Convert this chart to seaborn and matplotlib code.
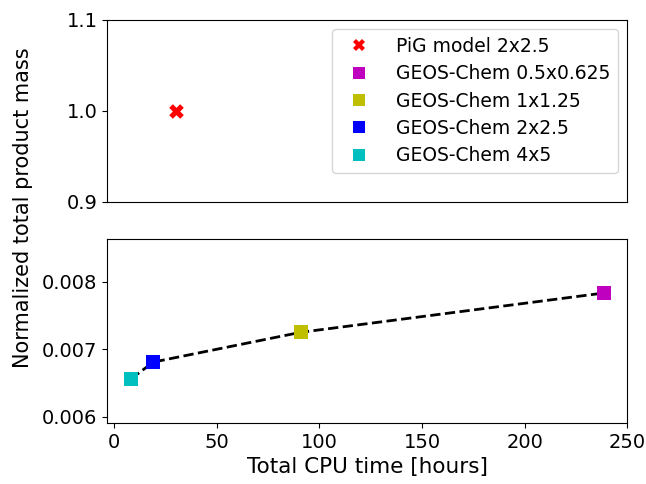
import matplotlib
matplotlib.use("Agg")
import matplotlib.pyplot as plt
import seaborn as sns
import pandas as pd
from matplotlib.lines import Line2D

# PiG model result
pig_label = "PiG model 2x2.5"
pig_cpu = [30.0]
pig_mass = [1.0]

# GEOS-Chem runs at several resolutions
gc_labels = ["GEOS-Chem 0.5x0.625", "GEOS-Chem 1x1.25", "GEOS-Chem 2x2.5", "GEOS-Chem 4x5"]
gc_cpu = [238.5, 90.9, 19.1, 8.2]
gc_mass = [0.00783, 0.00725, 0.00681, 0.00656]
gc_colors = ["m", "y", "b", "c"]

gc = pd.DataFrame({"cpu": gc_cpu, "mass": gc_mass, "run": gc_labels})
pig = pd.DataFrame({"cpu": pig_cpu, "mass": pig_mass, "run": [pig_label]})

fig = plt.figure(figsize=(6.46, 4.84), dpi=100)
ax1 = fig.add_axes([0.166, 0.583, 0.805, 0.376])
ax2 = fig.add_axes([0.166, 0.126, 0.805, 0.380], sharex=ax1)

# top: PiG
sns.scatterplot(data=pig, x="cpu", y="mass", ax=ax1, color="r", marker="X",
                s=110, linewidth=0, legend=False)
ax1.set_ylim(0.9, 1.1)
ax1.set_yticks([0.9, 1.0, 1.1])
ax1.tick_params(axis="x", bottom=False, labelbottom=False)
ax1.set_xlabel("")
ax1.set_ylabel("")

# bottom: GEOS-Chem with dashed line
sns.lineplot(data=gc, x="cpu", y="mass", ax=ax2, color="k", linestyle="--",
             linewidth=2, sort=True, zorder=1)
sns.scatterplot(data=gc, x="cpu", y="mass", hue="run", hue_order=gc_labels,
                palette=gc_colors, marker="s", s=100, linewidth=0, ax=ax2,
                legend=False, zorder=3)
ax2.set_ylim(0.00591, 0.008627)
ax2.set_yticks([0.006, 0.007, 0.008])
ax2.set_xlabel("Total CPU time [hours]", fontsize=15.5)
ax2.set_ylabel("")

for ax in (ax1, ax2):
    ax.tick_params(labelsize=14)

# legend combining both panels
handles = [Line2D([], [], marker="X", color="r", linestyle="none", markersize=9, markeredgewidth=0)]
for c in gc_colors:
    handles.append(Line2D([], [], marker="s", color=c, linestyle="none", markersize=9, markeredgewidth=0))
ax1.legend(handles, [pig_label] + gc_labels, loc="upper right", fontsize=13.5,
           handletextpad=1.0, labelspacing=0.45, borderaxespad=0.5)

fig.text(0.036, 0.57, "Normalized total product mass", rotation=90,
         va="center", ha="center", fontsize=15)

fig.savefig("out.png", dpi=100)
